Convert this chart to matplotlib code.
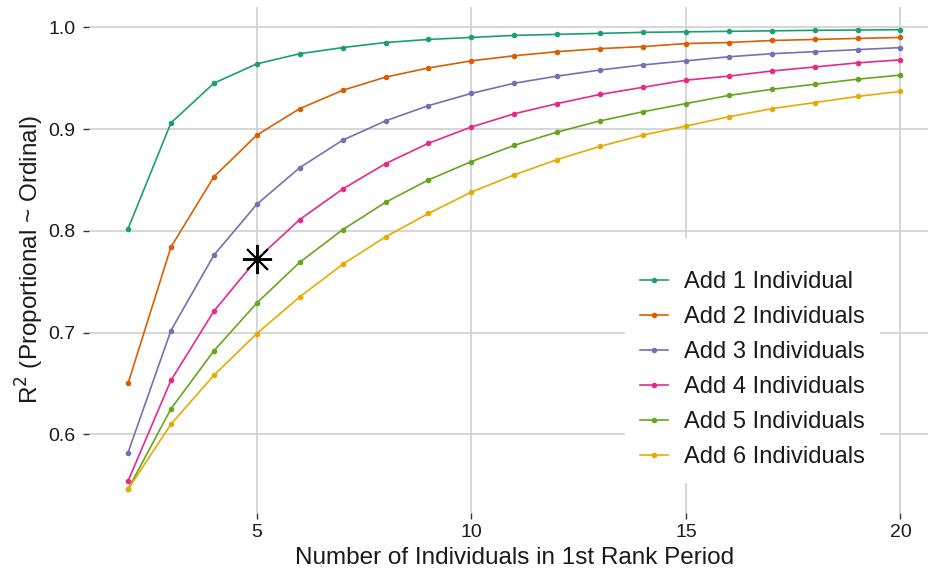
import matplotlib
matplotlib.use("Agg")
import matplotlib.pyplot as plt
from matplotlib.patches import Rectangle

plt.rcParams['font.family'] = ['Liberation Sans', 'DejaVu Sans']

x_vals = list(range(2, 21))
add1 = [0.802, 0.906, 0.945, 0.964, 0.974, 0.980, 0.985, 0.988, 0.990, 0.992,
        0.993, 0.994, 0.995, 0.9955, 0.996, 0.9965, 0.997, 0.9973, 0.9976]
add2 = [0.650, 0.784, 0.853, 0.894, 0.920, 0.938, 0.951, 0.960, 0.967, 0.972,
        0.976, 0.979, 0.981, 0.984, 0.985, 0.987, 0.988, 0.989, 0.990]
add3 = [0.582, 0.702, 0.776, 0.826, 0.862, 0.889, 0.908, 0.923, 0.935, 0.945,
        0.952, 0.958, 0.963, 0.967, 0.971, 0.974, 0.976, 0.978, 0.980]
add4 = [0.554, 0.653, 0.721, 0.772, 0.811, 0.841, 0.866, 0.886, 0.902, 0.915,
        0.925, 0.934, 0.941, 0.948, 0.952, 0.957, 0.961, 0.965, 0.968]
add5 = [0.546, 0.625, 0.682, 0.729, 0.769, 0.801, 0.828, 0.850, 0.868, 0.884,
        0.897, 0.908, 0.917, 0.925, 0.933, 0.939, 0.944, 0.949, 0.953]
add6 = [0.546, 0.610, 0.658, 0.699, 0.735, 0.767, 0.794, 0.817, 0.838, 0.855,
        0.870, 0.883, 0.894, 0.903, 0.912, 0.920, 0.926, 0.932, 0.937]
series = [add1, add2, add3, add4, add5, add6]
labels = ["Add 1 Individual", "Add 2 Individuals", "Add 3 Individuals",
          "Add 4 Individuals", "Add 5 Individuals", "Add 6 Individuals"]
colors = ["#1B9E77", "#D95F02", "#7570B3", "#E7298A", "#66A61E", "#E6AB02"]

star_x = [5]
star_y = [0.772]

x_ticks = [5, 10, 15, 20]
y_ticks = [0.6, 0.7, 0.8, 0.9, 1.0]
y_tick_labels = ["0.6", "0.7", "0.8", "0.9", "1.0"]

W, H = 929, 571
fig = plt.figure(figsize=(W / 100, H / 100), dpi=100)
fig.patch.set_facecolor("white")
left_px, right_px = 89.4, 939.1
top_px, bottom_px = 6.7, 513.0
ax = fig.add_axes([left_px / W, (H - bottom_px) / H,
                   (right_px - left_px) / W, (bottom_px - top_px) / H])
ax.set_xlim(1.1, 20.9)
ax.set_ylim(0.5227, 1.0202)

for s, lab, c in zip(series, labels, colors):
    ax.plot(x_vals, s, color=c, lw=1.2, marker="o", ms=3.0, mec=c, mfc=c,
            label=lab, zorder=3)

ax.plot(star_x, star_y, linestyle="none", marker=(8, 2, 0), ms=21,
        mec="black", mew=1.4, color="black", zorder=4)

ax.set_xticks(x_ticks)
ax.set_yticks(y_ticks)
ax.set_yticklabels(y_tick_labels)
ax.grid(True, color="#d0d0d0", lw=1.2)
ax.set_axisbelow(True)
for sp in ax.spines.values():
    sp.set_visible(False)
ax.tick_params(axis="both", length=4, width=1.0, color="#333333",
               labelsize=14, labelcolor="#1a1a1a")
ax.tick_params(axis="y", pad=6)
ax.tick_params(axis="x", pad=4)

ax.set_xlabel("Number of Individuals in 1st Rank Period", fontsize=17.5,
              color="#1a1a1a", labelpad=4)
ax.set_ylabel(r"R$^2$ (Proportional ~ Ordinal)", fontsize=17.5,
              color="#1a1a1a", labelpad=1.5)

# legend background (white box hiding grid lines)
bg = Rectangle((625 / W, 1 - 483 / H), (880 - 625) / W, (483 - 238) / H,
               transform=fig.transFigure, facecolor="white", edgecolor="none",
               zorder=1)
ax.add_patch(bg)

leg = ax.legend(loc="upper left",
                bbox_to_anchor=(640 / W, 1 - 271 / H),
                bbox_transform=fig.transFigure,
                frameon=False, fontsize=17, handlelength=1.19,
                handletextpad=0.68, labelspacing=0.55, borderpad=0,
                borderaxespad=0)
for t in leg.get_texts():
    t.set_color("#1a1a1a")

fig.savefig("out.png", dpi=100, facecolor="white")
